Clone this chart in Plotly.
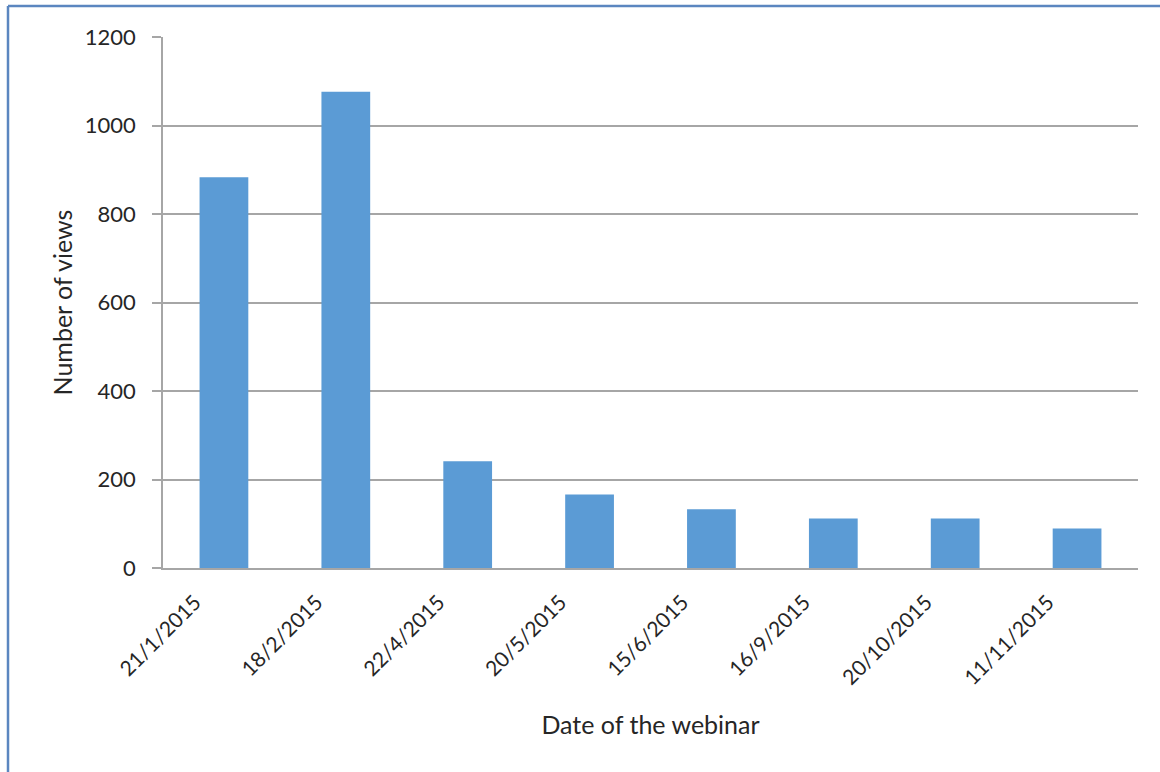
import plotly.graph_objects as go

# Webinar dates and number of recorded views
dates = ["21/1/2015", "18/2/2015", "22/4/2015", "20/5/2015",
         "15/6/2015", "16/9/2015", "20/10/2015", "11/11/2015"]
views = [883, 1076, 241, 166, 133, 112, 112, 89]

y_ticks = [0, 200, 400, 600, 800, 1000, 1200]

W, H = 1160, 772
ML, MR, MT, MB = 163, 22, 37, 204
PW, PH = W - ML - MR, H - MT - MB

FONT = "Lato, 'Open Sans', sans-serif"
GRID = "#a6a6a6"


def px_to_paper_x(px):
    return (px - ML) / PW


def px_to_paper_y(py):
    return (H - MB - py) / PH


fig = go.Figure(
    go.Bar(
        x=dates,
        y=views,
        marker=dict(color="#5b9bd5", line=dict(width=0)),
    )
)

# frame around the chart (left and top edges visible)
frame_color = "#5b86c0"
fig.add_shape(type="line", xref="paper", yref="paper",
              x0=px_to_paper_x(8), x1=px_to_paper_x(8),
              y0=px_to_paper_y(6), y1=px_to_paper_y(800),
              line=dict(color=frame_color, width=2.5))
fig.add_shape(type="line", xref="paper", yref="paper",
              x0=px_to_paper_x(8), x1=px_to_paper_x(1200),
              y0=px_to_paper_y(6), y1=px_to_paper_y(6),
              line=dict(color=frame_color, width=2.5))

fig.update_layout(
    width=W,
    height=H,
    margin=dict(l=ML, r=MR, t=MT, b=MB),
    paper_bgcolor="white",
    plot_bgcolor="white",
    bargap=0.6,
    showlegend=False,
    font=dict(family=FONT, color="#262626", size=21),
    xaxis=dict(
        title=dict(text="Date of the webinar", font=dict(size=25), standoff=28),
        tickangle=-45,
        tickfont=dict(size=21),
        ticklabelstandoff=12,
        ticklabelshift=-29,
        showline=True,
        linecolor=GRID,
        linewidth=1.5,
        showgrid=False,
        ticks="",
    ),
    yaxis=dict(
        title=dict(text="Number of views", font=dict(size=25), standoff=5),
        range=[0, 1200],
        tickvals=y_ticks,
        tickfont=dict(size=22),
        ticklabelstandoff=12,
        showgrid=True,
        gridcolor=GRID,
        gridwidth=1.5,
        showline=True,
        linecolor=GRID,
        linewidth=1.5,
        ticks="outside",
        ticklen=9,
        tickcolor=GRID,
        tickwidth=1.5,
        zeroline=False,
    ),
)

fig.write_html("out.html")
